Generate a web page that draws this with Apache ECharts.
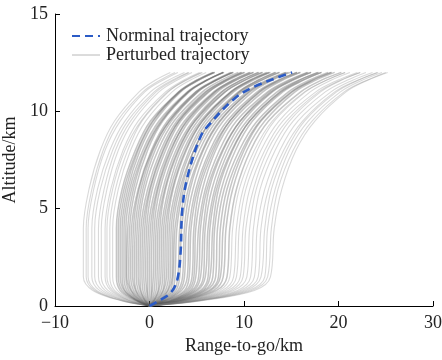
<!DOCTYPE html>
<html>
<head>
<meta charset="utf-8">
<script src="https://cdn.jsdelivr.net/npm/echarts@6/dist/echarts.min.js"></script>
<style>
  html, body { margin: 0; padding: 0; background: #fff; }
  #chart { width: 442px; height: 360px; }
</style>
</head>
<body>
<div id="chart"></div>
<script>
// altitude levels (km) shared by every perturbed trajectory
const altLevels = [0, 0.3, 0.8, 1.5, 4, 6, 8, 9.5, 11, 11.6, 12];

// range-to-go (km) of each perturbed trajectory at the levels above
const perturbedX = [
  [0, -3.2, -6.0, -7.0, -7.0, -6.4, -5.2, -3.7, -1.1, 0.6, 2.2],
  [0, -3.1, -5.8, -6.7, -6.7, -6.1, -4.9, -3.4, -0.7, 1.1, 2.7],
  [0, -3.0, -5.6, -6.5, -6.5, -5.9, -4.7, -3.1, -0.5, 1.4, 3.0],
  [0, -2.8, -5.3, -6.1, -6.1, -5.5, -4.2, -2.6, 0.1, 2.0, 3.7],
  [0, -2.7, -5.0, -5.8, -5.8, -5.2, -3.9, -2.3, 0.5, 2.4, 4.1],
  [0, -2.5, -4.7, -5.4, -5.4, -4.8, -3.6, -2.0, 0.7, 2.6, 4.2],
  [0, -2.3, -4.4, -5.1, -5.1, -4.5, -3.3, -1.7, 1.0, 2.9, 4.5],
  [0, -2.2, -4.1, -4.7, -4.7, -4.1, -2.8, -1.2, 1.7, 3.6, 5.3],
  [0, -2.1, -3.9, -4.5, -4.5, -3.9, -2.6, -0.9, 1.9, 3.9, 5.6],
  [0, -1.9, -3.7, -4.2, -4.2, -3.6, -2.3, -0.8, 2.0, 3.8, 5.5],
  [0, -1.8, -3.4, -3.9, -3.9, -3.3, -2.0, -0.4, 2.4, 4.3, 6.0],
  [0, -1.6, -3.1, -3.5, -3.5, -2.9, -1.5, 0.1, 3.1, 5.0, 6.8],
  [0, -1.5, -2.9, -3.3, -3.3, -2.7, -1.3, 0.3, 3.2, 5.2, 6.9],
  [0, -1.4, -2.7, -3.1, -3.1, -2.5, -1.2, 0.4, 3.1, 5.0, 6.7],
  [0, -1.4, -2.6, -2.9, -2.9, -2.3, -1.0, 0.6, 3.3, 5.2, 6.9],
  [0, -1.3, -2.4, -2.7, -2.7, -2.1, -0.7, 1.0, 4.0, 6.0, 7.8],
  [0, -1.2, -2.2, -2.5, -2.5, -1.9, -0.5, 1.2, 4.1, 6.1, 7.9],
  [0, -1.1, -2.0, -2.4, -2.3, -1.7, -0.4, 1.3, 4.1, 6.1, 7.8],
  [0, -1.0, -1.9, -2.2, -2.1, -1.5, -0.2, 1.4, 4.2, 6.1, 7.8],
  [0, -0.9, -1.7, -2.0, -1.9, -1.2, 0.2, 1.9, 4.9, 7.0, 8.8],
  [0, -0.8, -1.5, -1.8, -1.7, -1.1, 0.3, 2.1, 5.1, 7.1, 8.9],
  [0, -0.7, -1.4, -1.6, -1.5, -0.9, 0.4, 2.1, 4.9, 6.9, 8.6],
  [0, -0.6, -1.2, -1.4, -1.3, -0.7, 0.6, 2.3, 5.1, 7.1, 8.8],
  [0, -0.5, -1.0, -1.2, -1.1, -0.5, 0.9, 2.6, 5.6, 7.6, 9.4],
  [0, -0.5, -0.9, -1.0, -0.9, -0.2, 1.2, 2.9, 5.9, 8.0, 9.8],
  [0, -0.4, -0.7, -0.8, -0.7, 0.0, 1.4, 3.1, 6.2, 8.3, 10.1],
  [0, -0.3, -0.5, -0.6, -0.5, 0.1, 1.5, 3.1, 6.0, 8.0, 9.7],
  [0, -0.2, -0.3, -0.4, -0.3, 0.3, 1.7, 3.3, 6.3, 8.2, 10.0],
  [0, -0.1, -0.2, -0.2, -0.1, 0.6, 2.0, 3.7, 6.8, 8.9, 10.7],
  [0, 0.0, 0.0, 0.0, 0.1, 0.8, 2.2, 4.0, 7.0, 9.1, 11.0],
  [0, 0.1, 0.2, 0.2, 0.3, 0.9, 2.3, 3.9, 6.9, 8.8, 10.6],
  [0, 0.2, 0.3, 0.4, 0.5, 1.1, 2.5, 4.2, 7.2, 9.2, 11.0],
  [0, 0.3, 0.5, 0.6, 0.7, 1.4, 2.8, 4.6, 7.6, 9.7, 11.6],
  [0, 0.4, 0.7, 0.8, 0.9, 1.6, 3.0, 4.8, 8.0, 10.1, 12.0],
  [0, 0.5, 0.9, 1.0, 1.1, 1.7, 3.1, 4.8, 7.7, 9.7, 11.5],
  [0, 0.5, 1.0, 1.2, 1.3, 2.0, 3.3, 5.1, 8.0, 10.1, 11.9],
  [0, 0.6, 1.2, 1.4, 1.5, 2.2, 3.6, 5.4, 8.6, 10.7, 12.6],
  [0, 0.7, 1.4, 1.6, 1.7, 2.4, 3.8, 5.6, 8.7, 10.8, 12.7],
  [0, 0.8, 1.5, 1.8, 1.9, 2.5, 3.9, 5.6, 8.6, 10.6, 12.4],
  [0, 0.9, 1.7, 2.0, 2.1, 2.8, 4.2, 5.9, 8.9, 11.0, 12.8],
  [0, 1.0, 1.9, 2.2, 2.3, 3.0, 4.4, 6.2, 9.4, 11.5, 13.4],
  [0, 1.1, 2.0, 2.4, 2.5, 3.2, 4.7, 6.5, 9.6, 11.8, 13.7],
  [0, 1.2, 2.2, 2.5, 2.7, 3.4, 4.7, 6.5, 9.5, 11.5, 13.3],
  [0, 1.3, 2.4, 2.7, 2.9, 3.6, 5.0, 6.8, 9.8, 11.9, 13.8],
  [0, 1.4, 2.6, 3.0, 3.2, 3.8, 5.3, 7.1, 10.3, 12.4, 14.4],
  [0, 1.5, 2.8, 3.2, 3.4, 4.1, 5.6, 7.4, 10.6, 12.8, 14.7],
  [0, 1.6, 3.0, 3.5, 3.7, 4.3, 5.7, 7.5, 10.5, 12.6, 14.5],
  [0, 1.7, 3.2, 3.7, 3.9, 4.6, 6.0, 7.8, 10.9, 13.0, 14.9],
  [0, 1.8, 3.4, 4.0, 4.2, 4.9, 6.4, 8.2, 11.4, 13.6, 15.6],
  [0, 1.9, 3.7, 4.2, 4.4, 5.1, 6.6, 8.5, 11.7, 13.9, 15.9],
  [0, 2.0, 3.9, 4.5, 4.7, 5.3, 6.8, 8.5, 11.6, 13.7, 15.6],
  [0, 2.2, 4.1, 4.7, 4.9, 5.6, 7.0, 8.8, 12.0, 14.1, 16.0],
  [0, 2.3, 4.3, 4.9, 5.2, 5.9, 7.4, 9.2, 12.5, 14.7, 16.7],
  [0, 2.4, 4.5, 5.2, 5.4, 6.1, 7.7, 9.6, 12.9, 15.1, 17.1],
  [0, 2.5, 4.7, 5.4, 5.7, 6.3, 7.8, 9.6, 12.7, 14.9, 16.8],
  [0, 2.6, 4.9, 5.7, 5.9, 6.6, 8.1, 9.9, 13.0, 15.2, 17.1],
  [0, 2.7, 5.1, 5.9, 6.2, 6.9, 8.4, 10.3, 13.5, 15.8, 17.8],
  [0, 2.8, 5.4, 6.2, 6.4, 7.1, 8.7, 10.6, 13.9, 16.2, 18.2],
  [0, 2.9, 5.6, 6.4, 6.7, 7.3, 8.8, 10.6, 13.8, 15.9, 17.9],
  [0, 3.1, 5.8, 6.7, 6.9, 7.6, 9.1, 10.9, 14.1, 16.3, 18.2],
  [0, 3.2, 6.0, 7.0, 7.2, 7.9, 9.5, 11.4, 14.7, 16.9, 18.9],
  [0, 3.3, 6.3, 7.3, 7.5, 8.2, 9.8, 11.7, 15.0, 17.3, 19.3],
  [0, 3.5, 6.5, 7.5, 7.8, 8.5, 10.0, 11.8, 15.1, 17.2, 19.2],
  [0, 3.6, 6.8, 7.8, 8.1, 8.8, 10.3, 12.2, 15.4, 17.6, 19.6],
  [0, 3.8, 7.1, 8.2, 8.5, 9.2, 10.7, 12.6, 16.0, 18.2, 20.3],
  [0, 3.9, 7.4, 8.5, 8.8, 9.5, 11.1, 13.0, 16.4, 18.7, 20.7],
  [0, 4.1, 7.7, 8.9, 9.2, 9.9, 11.4, 13.2, 16.5, 18.7, 20.7],
  [0, 4.2, 8.0, 9.2, 9.5, 10.2, 11.8, 13.7, 17.0, 19.2, 21.2],
  [0, 4.4, 8.3, 9.6, 9.9, 10.6, 12.2, 14.1, 17.6, 19.9, 22.0],
  [0, 4.5, 8.6, 9.9, 10.2, 11.0, 12.5, 14.5, 17.9, 20.2, 22.3],
  [0, 4.7, 8.9, 10.3, 10.6, 11.3, 12.9, 14.8, 18.1, 20.3, 22.3],
  [0, 4.9, 9.3, 10.7, 11.0, 11.7, 13.3, 15.2, 18.6, 20.9, 22.9],
  [0, 5.1, 9.6, 11.1, 11.4, 12.2, 13.8, 15.7, 19.2, 21.5, 23.6],
  [0, 5.3, 9.9, 11.5, 11.8, 12.6, 14.2, 16.2, 19.6, 22.0, 24.1],
  [0, 5.4, 10.2, 11.8, 12.2, 12.9, 14.5, 16.4, 19.8, 22.1, 24.2],
  [0, 5.6, 10.5, 12.2, 12.5, 13.3, 14.8, 16.8, 20.2, 22.5, 24.6],
  [0, 5.7, 10.8, 12.5, 12.9, 13.6, 15.2, 17.2, 20.6, 23.0, 25.0],
  [0, 5.9, 11.1, 12.8, 13.2, 14.0, 15.5, 17.5, 20.8, 23.1, 25.2]
];

// nominal trajectory
const nominalAlt = [0, 0.22, 0.66, 1.33, 2.7, 4.9, 6.6, 8.7, 9.4, 10.7, 11.25, 11.8, 12];
const nominalX = [0, 0.8, 2.2, 2.93, 3.28, 3.46, 4.0, 5.4, 6.45, 9.1, 11.0, 13.9, 15.1];

const xTicks = [-10, 0, 10, 20, 30];
const yTicks = [0, 5, 10, 15];

const FONT = 'Times New Roman';

// outer (rarer) trajectories are drawn lighter, like the sparse edges of the bundle
const series = perturbedX.map(row => {
  const outer = row[3] < -3.6 || row[3] > 8.2;
  const col = outer ? 'rgba(120,120,120,0.28)' : 'rgba(95,95,95,0.36)';
  return {
    name: 'Perturbed trajectory',
    type: 'line',
    smooth: 0.35,
    symbol: 'none',
    silent: true,
    lineStyle: { color: col, width: outer ? 1.1 : 1.5 },
    itemStyle: { color: col },
    data: altLevels.map((h, i) => [row[i], h])
  };
});

series.push({
  name: 'Norminal trajectory',
  type: 'line',
  smooth: 0.35,
  symbol: 'none',
  z: 5,
  lineStyle: { color: '#2b5bc6', width: 2.6, type: [8, 5] },
  itemStyle: { color: '#2b5bc6' },
  data: nominalAlt.map((h, i) => [nominalX[i], h])
});

const chart = echarts.init(document.getElementById('chart'));
chart.setOption({
  animation: false,
  backgroundColor: '#fff',
  textStyle: { fontFamily: FONT },
  grid: { left: 55, right: 9, top: 14, bottom: 54, outerBoundsMode: 'none', containLabel: false },
  legend: {
    orient: 'vertical',
    left: 66,
    top: 22,
    itemWidth: 28,
    itemHeight: 12,
    itemGap: 1,
    itemStyle: { opacity: 0 },
    data: [
      { name: 'Norminal trajectory' },
      { name: 'Perturbed trajectory', lineStyle: { color: '#b8b8b8', width: 1 } }
    ],
    textStyle: { fontFamily: FONT, fontSize: 18, color: '#222', padding: [0, 0, 0, 1] }
  },
  xAxis: {
    type: 'value',
    min: xTicks[0],
    max: xTicks[xTicks.length - 1],
    interval: 10,
    name: 'Range-to-go/km',
    nameLocation: 'middle',
    nameGap: 31,
    nameTextStyle: { fontFamily: FONT, fontSize: 18, color: '#222' },
    axisLine: { onZero: false, lineStyle: { color: '#000', width: 1 } },
    axisTick: { inside: true, length: 5, lineStyle: { color: '#000' } },
    axisLabel: {
      fontFamily: FONT, fontSize: 18, color: '#222', margin: 8,
      formatter: v => String(v).replace('-', '\u2212')
    },
    splitLine: { show: false }
  },
  yAxis: {
    type: 'value',
    min: yTicks[0],
    max: yTicks[yTicks.length - 1],
    interval: 5,
    name: 'Altitude/km',
    nameLocation: 'middle',
    nameGap: 29,
    nameTextStyle: { fontFamily: FONT, fontSize: 18, color: '#222' },
    axisLine: { show: true, onZero: false, lineStyle: { color: '#000', width: 1 } },
    axisTick: { show: true, inside: true, length: 5, lineStyle: { color: '#000' } },
    axisLabel: { fontFamily: FONT, fontSize: 18, color: '#222', margin: 7 },
    splitLine: { show: false }
  },
  series: series
});
</script>
</body>
</html>
